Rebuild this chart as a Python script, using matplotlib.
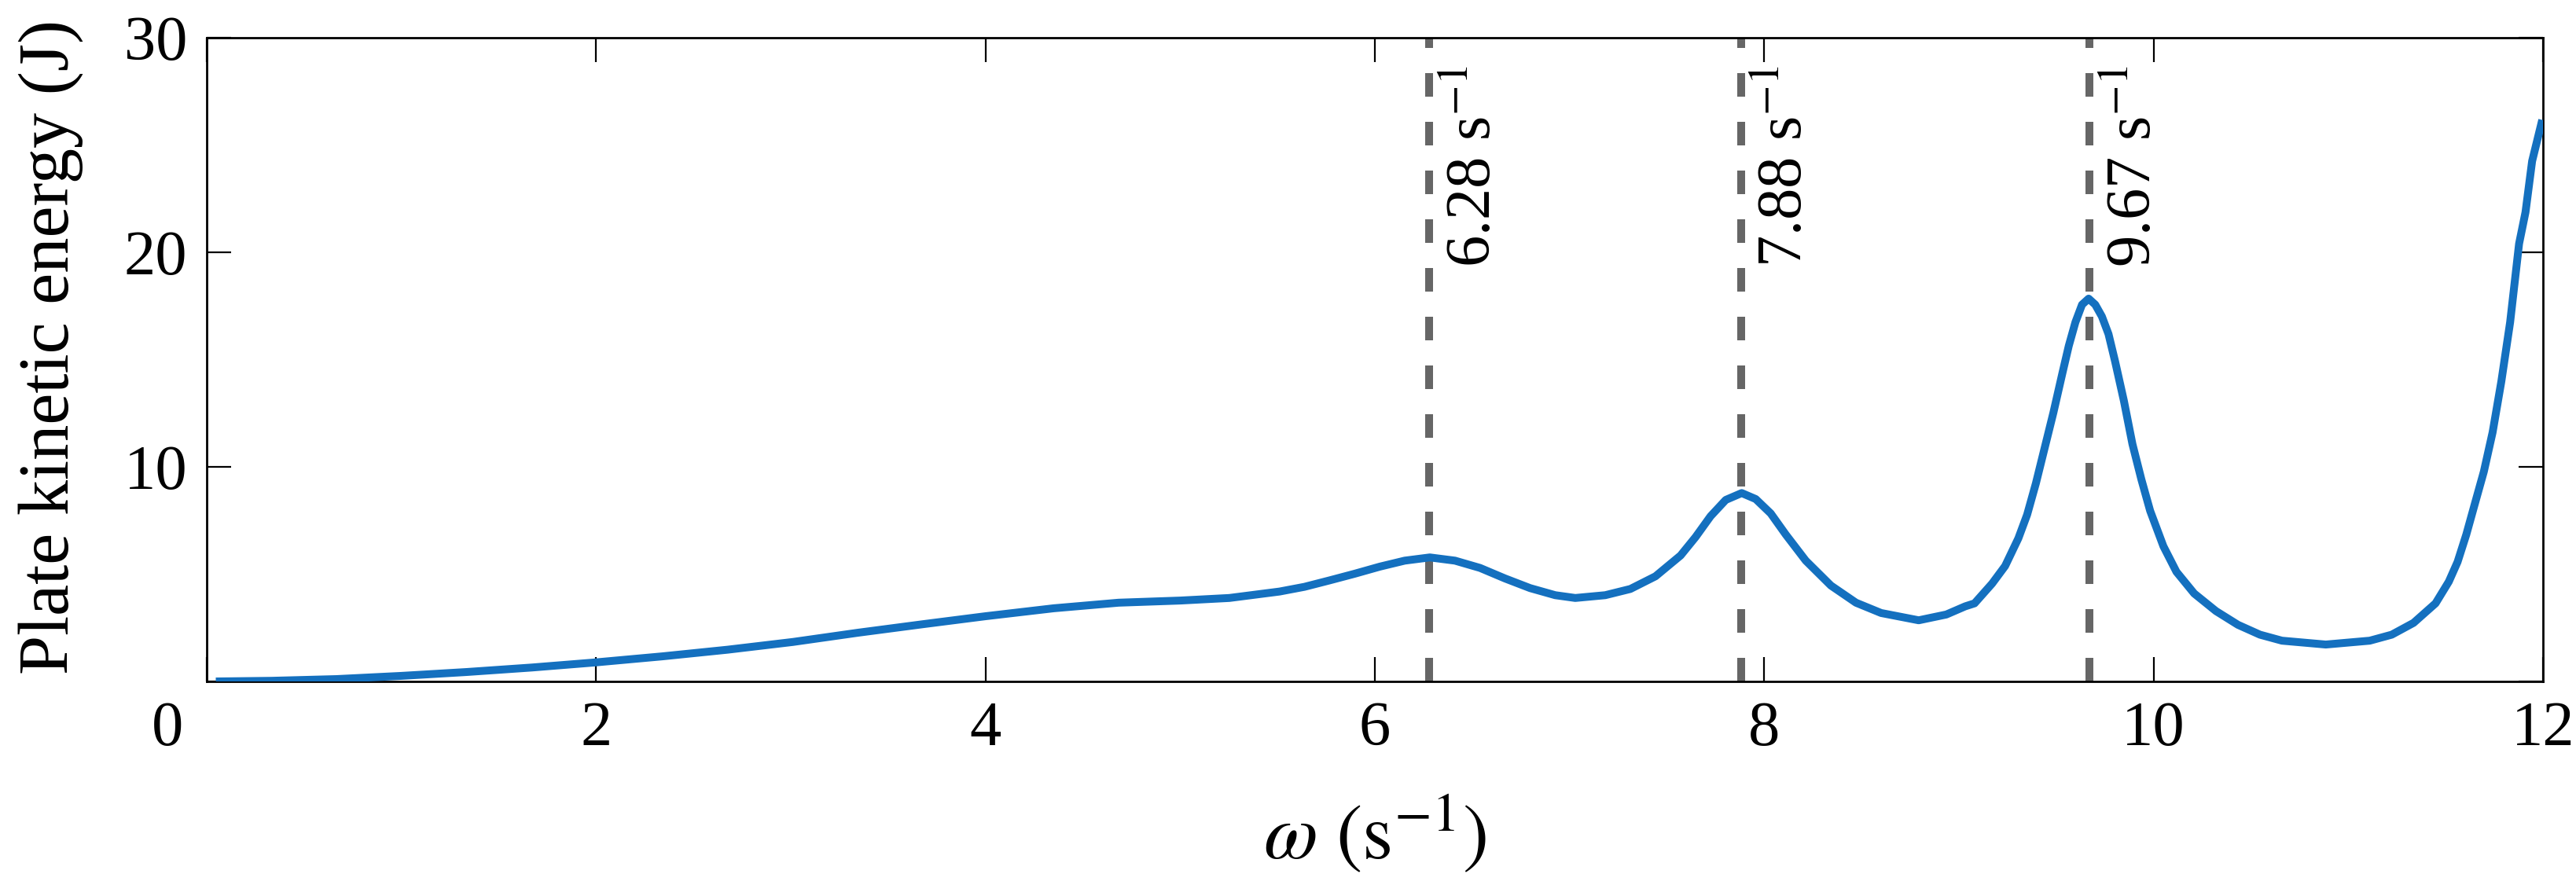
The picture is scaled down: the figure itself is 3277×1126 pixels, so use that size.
import numpy as np
import matplotlib
matplotlib.use("Agg")
from matplotlib import pyplot as plt
from matplotlib import transforms

# plate kinetic energy vs forcing frequency
omega = [0.046, 0.331, 0.666, 1.0, 1.335, 1.67, 2.0, 2.34, 2.675, 3.01, 3.344,
         3.68, 4.0, 4.35, 4.683, 5.0, 5.252, 5.51, 5.638, 5.767, 5.896, 6.025,
         6.153, 6.282, 6.411, 6.54, 6.668, 6.797, 6.926, 7.029, 7.183, 7.312,
         7.441, 7.57, 7.647, 7.724, 7.802, 7.884, 7.956, 8.033, 8.11, 8.213,
         8.342, 8.471, 8.6, 8.793, 8.935, 9.032, 9.08, 9.17, 9.237, 9.305,
         9.35, 9.395, 9.44, 9.485, 9.531, 9.564, 9.598, 9.632, 9.666, 9.7,
         9.734, 9.768, 9.802, 9.847, 9.891, 9.937, 9.982, 10.05, 10.117,
         10.208, 10.32, 10.433, 10.546, 10.659, 10.884, 11.11, 11.223, 11.335,
         11.448, 11.516, 11.561, 11.606, 11.651, 11.696, 11.741, 11.786,
         11.831, 11.877, 11.91, 11.944, 11.996]
energy = [0.0, 0.03, 0.11, 0.26, 0.44, 0.65, 0.89, 1.17, 1.48, 1.84, 2.27,
          2.67, 3.04, 3.41, 3.67, 3.77, 3.89, 4.19, 4.41, 4.71, 5.02, 5.35,
          5.63, 5.78, 5.63, 5.29, 4.8, 4.35, 4.02, 3.89, 4.02, 4.31,
          4.9, 5.87, 6.73, 7.7, 8.46, 8.78, 8.5, 7.83, 6.85, 5.63,
          4.47, 3.67, 3.19, 2.85, 3.12, 3.5, 3.64, 4.56, 5.38, 6.67,
          7.77, 9.23, 10.88, 12.53, 14.36, 15.64, 16.74, 17.56, 17.84, 17.56,
          17.01, 16.19, 14.91, 13.08, 11.06, 9.41, 7.95, 6.3, 5.11,
          4.1, 3.28, 2.64, 2.18, 1.9, 1.72, 1.9, 2.18, 2.73,
          3.64, 4.65, 5.57, 6.85, 8.32, 9.78, 11.61, 13.99,
          16.74, 20.4, 21.87, 24.25, 26.17]

# resonance frequencies marked with dashed lines
resonances = [6.28, 7.88, 9.67]
res_labels = ["6.28 s$^{-1}$", "7.88 s$^{-1}$", "9.67 s$^{-1}$"]

xticks = [0, 2, 4, 6, 8, 10, 12]
yticks = [0, 10, 20, 30]

plt.rcParams['font.family'] = ['Liberation Serif', 'DejaVu Serif']
plt.rcParams['mathtext.fontset'] = 'stix'
plt.rcParams['font.size'] = 29

fig = plt.figure(figsize=(16.385, 5.63), dpi=200)
ax = fig.add_axes([0.0803, 0.23, 0.9069, 0.7274])

for w, lab in zip(resonances, res_labels):
    ax.plot([w, w], [0, 30], color='#666666', lw=3.6, dashes=[3, 3.2], zorder=2)
    ax.text(w + 0.09, 28.7, lab, rotation=90, ha='left', va='top', fontsize=29)

ax.plot(omega, energy, color='#1470bf', lw=3.6, zorder=3, solid_capstyle='butt')

ax.set_xlim(0, 12)
ax.set_ylim(0, 30)
ax.set_xticks(xticks)
ax.set_xticklabels([str(t) for t in xticks])
ax.set_yticks(yticks)
ax.set_yticklabels(['' if t == 0 else str(t) for t in yticks])
ax.tick_params(direction='in', length=11, width=0.8, top=True, right=True, pad=9, labelsize=29)
for s in ax.spines.values():
    s.set_linewidth(1.0)

# the 0 label on the x axis sits left of the corner in the original
lab0 = ax.get_xticklabels()[0]
lab0.set_transform(lab0.get_transform() + transforms.ScaledTranslation(-18 / 72, 0, fig.dpi_scale_trans))

ax.set_xlabel(r"$\omega\ \left(\mathrm{s}^{-1}\right)$", fontsize=36)
ax.set_ylabel("Plate kinetic energy (J)", fontsize=32.5)
ax.xaxis.set_label_coords(0.5, -0.175)
ax.yaxis.set_label_coords(-0.053, 0.52)

fig.savefig("out.png", dpi=200)
